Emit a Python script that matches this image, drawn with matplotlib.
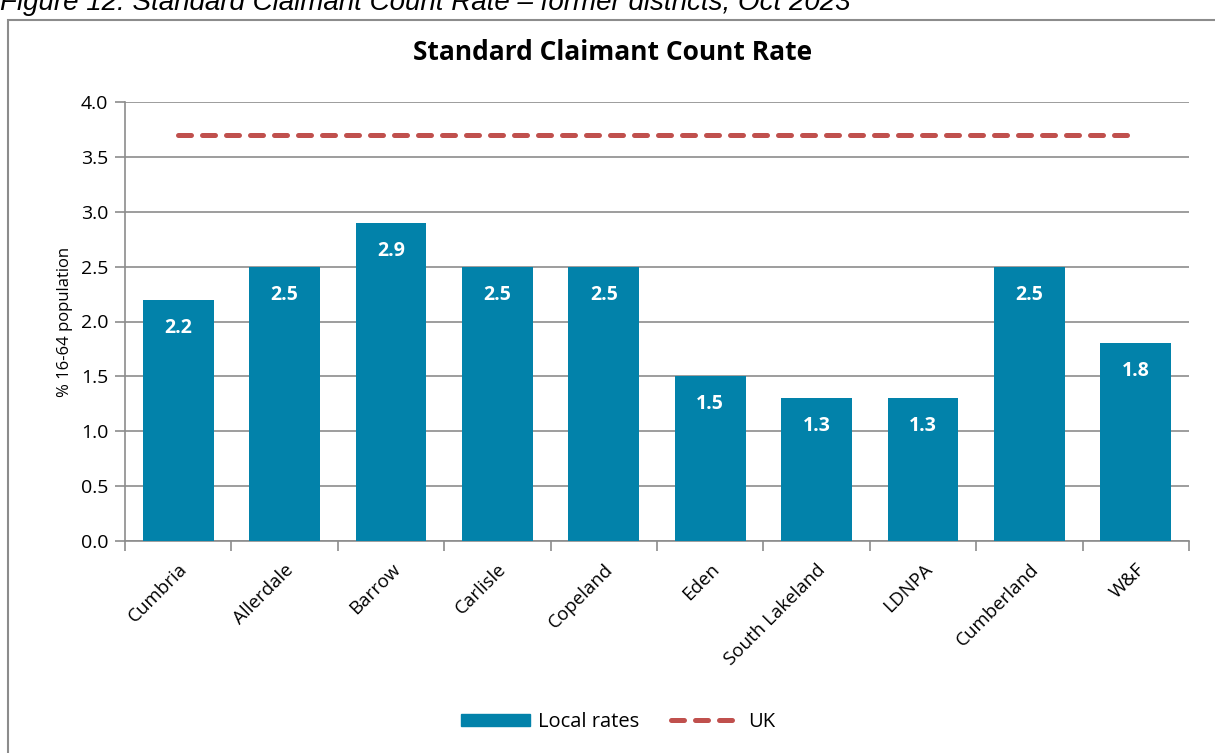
import matplotlib.pyplot as plt
from matplotlib.patches import Rectangle
from matplotlib.lines import Line2D
import numpy as np

# Standard Claimant Count Rate, Oct 2023
areas = ["Cumbria", "Allerdale", "Barrow", "Carlisle", "Copeland", "Eden",
         "South Lakeland", "LDNPA", "Cumberland", "W&F"]
local_rates = [2.2, 2.5, 2.9, 2.5, 2.5, 1.5, 1.3, 1.3, 2.5, 1.8]
uk_rate = 3.7

bar_col = "#0282AA"
uk_col = "#C0504D"
grid_col = "#8C8C8C"
font = "Open Sans"
dash = (0, (2.6, 2.2))

W, H = 1215, 753
fig = plt.figure(figsize=(W / 100, H / 100), dpi=100)
ax = fig.add_axes([125 / W, 1 - 541 / H, (1189 - 125) / W, (541 - 102) / H])

x = np.arange(len(areas))
ax.bar(x, local_rates, width=0.667, color=bar_col, zorder=3)
ax.plot([x[0], x[-1]], [uk_rate, uk_rate], color=uk_col, lw=3.6,
        ls=dash, dash_capstyle="round", zorder=4)

for xi, v in zip(x, local_rates):
    ax.text(xi, v - 0.255, f"{v:.1f}", ha="center", va="center", color="white",
            fontsize=14, fontweight="bold", family=font, zorder=5)

ax.set_xlim(-0.5, len(areas) - 0.5)
ax.set_ylim(0, 4.0)
ax.set_yticks(np.arange(0, 4.01, 0.5))
ax.set_yticklabels([f"{t:.1f}" for t in np.arange(0, 4.01, 0.5)],
                   family=font, fontsize=14)
ax.yaxis.grid(True, color=grid_col, lw=1.2, zorder=0)
ax.set_axisbelow(True)

ax.set_xticks(np.arange(-0.5, len(areas), 1.0))
ax.set_xticklabels([])
ax.set_xticks(x, minor=True)
ax.set_xticklabels(areas, minor=True, rotation=45, ha="right",
                   rotation_mode="anchor", family=font, fontsize=13.5)
ax.tick_params(axis="x", which="minor", length=0, pad=14)
ax.tick_params(axis="x", which="major", length=7, color=grid_col, width=1.2)
ax.tick_params(axis="y", length=7, color=grid_col, width=1.2, pad=5)

for side in ["top", "right"]:
    ax.spines[side].set_visible(False)
for side in ["left", "bottom"]:
    ax.spines[side].set_color(grid_col)
    ax.spines[side].set_linewidth(1.2)

ax.set_ylabel("% 16-64 population", family=font, fontsize=12, labelpad=6)

fig.text(613 / W, 1 - 52 / H, "Standard Claimant Count Rate", ha="center",
         va="center", fontsize=19, fontweight="bold", family=font)

# caption, partly cut by the top edge of the image
fig.text(0, 1 - 10 / H, "Figure 12: Standard Claimant Count Rate \u2013 former districts, Oct 2023",
         ha="left", va="baseline", fontsize=20, style="italic",
         family="Liberation Sans")

# chart frame
fig.patches.append(Rectangle((8 / W, -0.1), 1.2, 1.1 - 20 / H, transform=fig.transFigure,
                             fill=False, edgecolor=grid_col, lw=1.5))

handles = [Rectangle((0, 0), 1, 1, color=bar_col),
           Line2D([0], [0], color=uk_col, lw=3.6, ls=dash,
                  dash_capstyle="round")]
fig.legend(handles, ["Local rates", "UK"], loc="center",
           bbox_to_anchor=(618 / W, 1 - 722 / H), ncol=2, frameon=False,
           prop={"family": font, "size": 14.5}, handlelength=3.4,
           handleheight=0.6, columnspacing=1.6, handletextpad=0.4)

fig.savefig("out.png", dpi=100)
